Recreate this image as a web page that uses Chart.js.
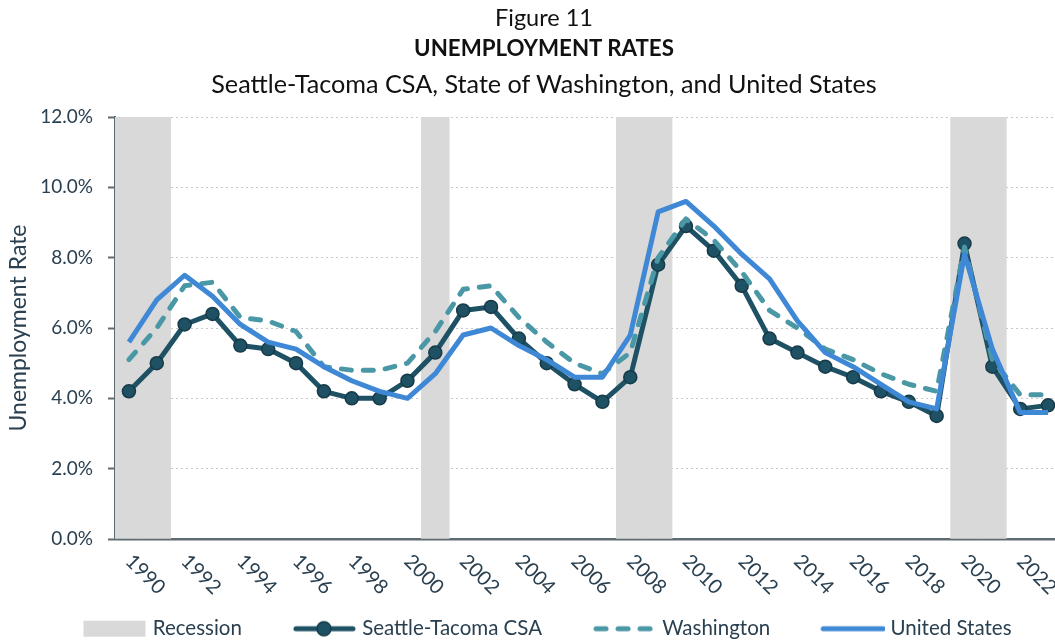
<!DOCTYPE html>
<html><head><meta charset="utf-8">
<script src="https://cdn.jsdelivr.net/npm/chart.js@4"></script>
<style>
html,body{margin:0;padding:0;overflow:hidden;background:#fff;width:1055px;height:641px}
#wrap{position:relative;width:1088px;height:649px}
.t{position:absolute;left:0;width:1088px;text-align:center;font-family:Lato;color:#111;white-space:nowrap}
canvas{position:absolute;left:0;top:0}
</style></head><body>
<div id="wrap">
<canvas id="c" width="1088" height="649" style="width:1088px;height:649px"></canvas>
<div class="t" style="top:3px;font-size:23.5px;line-height:28px">Figure 11</div>
<div class="t" style="top:34px;font-size:22.3px;line-height:28px;font-weight:bold">UNEMPLOYMENT RATES</div>
<div class="t" style="top:69px;font-size:25.2px;line-height:28px">Seattle-Tacoma CSA, State of Washington, and United States</div>
</div>
<script>
const years = ['1990','1991','1992','1993','1994','1995','1996','1997','1998','1999',
  '2000','2001','2002','2003','2004','2005','2006','2007','2008','2009',
  '2010','2011','2012','2013','2014','2015','2016','2017','2018','2019',
  '2020','2021','2022','2023'];
const xTickLabels = ['1990','1992','1994','1996','1998','2000','2002','2004','2006','2008',
  '2010','2012','2014','2016','2018','2020','2022'];
const recession = [12,12,null,null,null,null,null,null,null,null,
  null,12,null,null,null,null,null,null,12,12,
  null,null,null,null,null,null,null,null,null,null,
  12,12,null,null];
const seattleTacoma = [4.2,5.0,6.1,6.4,5.5,5.4,5.0,4.2,4.0,4.0,
  4.5,5.3,6.5,6.6,5.7,5.0,4.4,3.9,4.6,7.8,
  8.9,8.2,7.2,5.7,5.3,4.9,4.6,4.2,3.9,3.5,
  8.4,4.9,3.7,3.8];
const washington = [5.1,6.0,7.2,7.3,6.3,6.2,5.9,4.9,4.8,4.8,
  5.0,5.9,7.1,7.2,6.3,5.6,5.0,4.7,5.3,8.0,
  9.1,8.5,7.6,6.5,6.0,5.4,5.1,4.7,4.4,4.2,
  8.3,5.1,4.1,4.1];
const unitedStates = [5.6,6.8,7.5,6.9,6.1,5.6,5.4,4.9,4.5,4.2,
  4.0,4.7,5.8,6.0,5.5,5.1,4.6,4.6,5.8,9.3,
  9.6,8.9,8.1,7.4,6.2,5.3,4.9,4.4,3.9,3.7,
  8.1,5.4,3.6,3.6];
const yTickValues = [0,2,4,6,8,10,12];

const TXT = '#2a4050';
const C_REC = '#d9d9d9', C_CSA = '#1e5164', C_CSA_B = '#163a48', C_WA = '#4a97a6', C_US = '#3f88d6';
const FONT = 'Lato';

// legend symbols: 72px wide image, symbol drawn offset to the right
function sym(draw){ const c=document.createElement('canvas'); c.width=72; c.height=18; const g=c.getContext('2d'); g.translate(8,0); draw(g); return c; }
const symRec = sym(g=>{ g.fillStyle=C_REC; g.fillRect(0,1,62,16); });
const symCSA = sym(g=>{ g.strokeStyle=C_CSA; g.lineWidth=5; g.lineCap='round'; g.beginPath(); g.moveTo(3,9); g.lineTo(60,9); g.stroke();
  g.beginPath(); g.arc(31,9,7,0,Math.PI*2); g.fillStyle=C_CSA; g.fill(); g.lineWidth=1.5; g.strokeStyle=C_CSA_B; g.stroke(); });
const symWA = sym(g=>{ g.strokeStyle=C_WA; g.lineWidth=5; g.lineCap='round'; g.setLineDash([10,12]); g.beginPath(); g.moveTo(3,9); g.lineTo(61,9); g.stroke(); });
const symUS = sym(g=>{ g.strokeStyle=C_US; g.lineWidth=5; g.lineCap='round'; g.beginPath(); g.moveTo(2,9); g.lineTo(62,9); g.stroke(); });

const xLabelPlugin = {
  id:'xlabels',
  afterLayout(chart){
    if (chart.legend) { chart.legend.left += 15; chart.legend.right += 15; }
  },
  afterDraw(chart){
    const {ctx, scales:{x}, chartArea} = chart;
    ctx.save();
    ctx.font = '20px ' + FONT;
    ctx.fillStyle = TXT;
    ctx.textAlign = 'left'; ctx.textBaseline = 'middle';
    xTickLabels.forEach(l => {
      const px = x.getPixelForValue(years.indexOf(l));
      ctx.save(); ctx.translate(px, chartArea.bottom + 19); ctx.rotate(Math.PI/4); ctx.fillText(l, 0, 0); ctx.restore();
    });
    ctx.restore();
  }
};

new Chart(document.getElementById('c'), {
  type: 'line',
  data: {
    labels: years,
    datasets: [
      {type:'bar', label:'Recession', data:recession, backgroundColor:C_REC, barPercentage:1, categoryPercentage:1, order:4},
      {label:'Seattle-Tacoma CSA', data:seattleTacoma, borderColor:C_CSA, borderWidth:5, borderJoinStyle:'round', pointRadius:6.5, pointBackgroundColor:C_CSA, pointBorderColor:C_CSA_B, pointBorderWidth:1.5, tension:0, order:3},
      {label:'Washington', data:washington, borderColor:C_WA, borderWidth:5, borderDash:[10,12], borderCapStyle:'round', borderJoinStyle:'round', pointRadius:0, tension:0, order:2},
      {label:'United States', data:unitedStates, borderColor:C_US, borderWidth:5, borderJoinStyle:'round', pointRadius:0, tension:0, order:1}
    ]
  },
  options: {
    responsive:false, animation:false, devicePixelRatio:1,
    layout:{padding:{top:117, right:26, left:0, bottom:0}},
    scales:{
      x:{
        offset:true,
        grid:{display:false, drawTicks:false},
        border:{display:true, color:'#5f6b73', width:2.5},
        ticks:{display:false},
        afterFit(s){ s.height = 31.5; }
      },
      y:{
        min:0, max:12,
        afterBuildTicks(s){ s.ticks = yTickValues.map(v=>({value:v})); },
        ticks:{ callback:v=>v.toFixed(1)+'%', color:TXT, font:{family:FONT, size:19}, padding:15 },
        grid:{ color:'#c8c8c8', lineWidth:1, tickColor:'#5f6b73', tickLength:7, tickWidth:2 },
        border:{ display:true, color:'#5f6b73', width:2, dash:[2,3] },
        title:{ display:true, text:'Unemployment Rate', color:TXT, font:{family:FONT, size:23}, padding:{top:5,bottom:0} },
        afterFit(s){ s.width = 115; }
      }
    },
    plugins:{
      tooltip:{enabled:false},
      legend:{
        position:'bottom',
        labels:{
          usePointStyle:true, pointStyleWidth:62, padding:48, color:TXT, font:{family:FONT, size:20.5},
          generateLabels(){
            return [
              {text:'Recession', pointStyle:symRec, fillStyle:C_REC, strokeStyle:C_REC, lineWidth:0, hidden:false, datasetIndex:0, fontColor:TXT},
              {text:'Seattle-Tacoma CSA', pointStyle:symCSA, fillStyle:C_CSA, strokeStyle:C_CSA, lineWidth:0, hidden:false, datasetIndex:1, fontColor:TXT},
              {text:'Washington', pointStyle:symWA, fillStyle:C_WA, strokeStyle:C_WA, lineWidth:0, hidden:false, datasetIndex:2, fontColor:TXT},
              {text:'United States', pointStyle:symUS, fillStyle:C_US, strokeStyle:C_US, lineWidth:0, hidden:false, datasetIndex:3, fontColor:TXT}
            ];
          }
        }
      }
    }
  },
  plugins:[xLabelPlugin]
});
</script>
</body></html>
